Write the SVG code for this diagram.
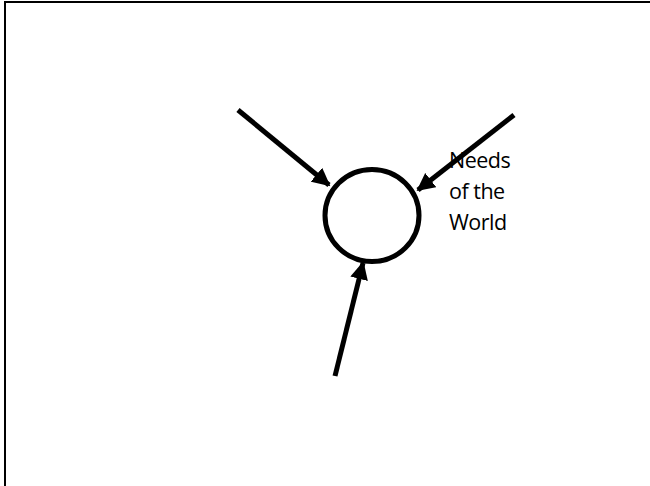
<svg xmlns="http://www.w3.org/2000/svg" width="650" height="486" viewBox="0 0 650 486">
<style>
.frame{fill:none;stroke:#000;stroke-width:2}
.conn{stroke:#000;stroke-width:5;fill:none}
.node{fill:none;stroke:#000;stroke-width:5}
.lbl{font-family:"Open Sans","Liberation Sans",sans-serif;font-size:21.5px;fill:#000;letter-spacing:-0.5px}
</style>
<defs>
<marker id="ah" viewBox="0 0 10 10" refX="9" refY="5" markerWidth="3.6" markerHeight="3.6" orient="auto" markerUnits="strokeWidth">
<path d="M0,0 L10,5 L0,10 z" fill="#000"/>
</marker>
</defs>
<rect width="650" height="486" fill="#fff"/>
<rect class="frame" x="5" y="2" width="660" height="500"/>
<g id="center">
<ellipse class="node" cx="372" cy="215.5" rx="47" ry="46"/>
</g>
<g id="label">
<text class="lbl" x="449" y="168">Needs</text>
<text class="lbl" x="449" y="199">of the</text>
<text class="lbl" x="449" y="230">World</text>
</g>
<g id="connectors">
<line class="conn" x1="238" y1="110" x2="329" y2="185" marker-end="url(#ah)"/>
<line class="conn" x1="514" y1="115" x2="418" y2="190" marker-end="url(#ah)"/>
<line class="conn" x1="335" y1="376" x2="363" y2="263" marker-end="url(#ah)"/>
</g>
</svg>
